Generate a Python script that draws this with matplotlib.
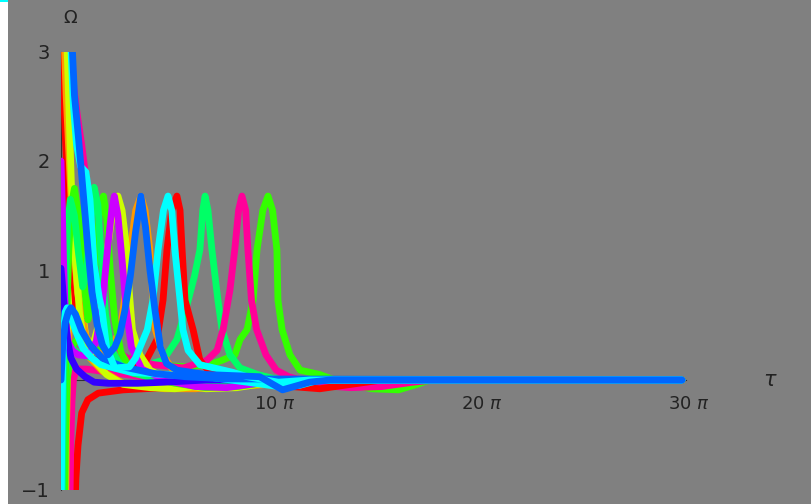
import matplotlib
matplotlib.use("Agg")
import matplotlib.pyplot as plt
from matplotlib.patches import Rectangle
from matplotlib.transforms import ScaledTranslation

# tau in units of pi, Omega
red_a_t = [0.03, 0.15, 0.3, 0.45, 0.7, 1.0, 1.5, 2.2, 3.09, 4.06, 4.64, 4.93, 5.12, 5.35, 5.6, 5.75, 5.85, 5.99, 6.38, 6.71, 7.2, 8.0, 9.0, 10.5, 12.5, 14.0, 15.5, 30.0]
red_a_w = [3.3, 2.5, 1.8, 1.4, 0.7, 0.4, 0.22, 0.13, 0.09, 0.16, 0.37, 0.73, 1.19, 1.55, 1.68, 1.55, 1.19, 0.73, 0.46, 0.18, 0.07, 0.03, 0.0, -0.05, -0.08, -0.04, 0.0, 0.0]

orange_a_t = [0.12, 0.25, 0.4, 0.55, 0.8, 1.2, 1.7, 2.26, 2.86, 3.14, 3.36, 3.61, 3.86, 4.06, 4.29, 4.41, 4.56, 4.92, 5.41, 6.5, 7.5, 8.5, 10.0, 12.0, 30.0]
orange_a_w = [3.3, 2.6, 2.0, 1.4, 0.8, 0.4, 0.25, 0.23, 0.46, 0.82, 1.2, 1.55, 1.68, 1.55, 1.19, 0.8, 0.46, 0.23, 0.09, 0.02, -0.04, -0.06, -0.04, 0.0, 0.0]

yellow_a_t = [0.25, 0.38, 0.5, 0.65, 0.9, 1.15, 1.4, 1.75, 2.03, 2.25, 2.5, 2.75, 2.95, 3.18, 3.3, 3.45, 3.81, 4.3, 5.0, 6.0, 7.0, 8.5, 9.5, 11.0, 30.0]
yellow_a_w = [3.3, 2.5, 1.8, 1.2, 0.6, 0.3, 0.22, 0.46, 0.82, 1.2, 1.55, 1.68, 1.55, 1.19, 0.8, 0.46, 0.23, 0.09, 0.02, -0.05, -0.08, -0.07, -0.04, 0.0, 0.0]

cyan_a_t = [0.42, 0.6, 0.75, 0.95, 1.2, 1.4, 1.6, 1.85, 1.98, 2.2, 2.6, 3.3, 3.6, 4.17, 4.44, 4.69, 4.95, 5.17, 5.35, 5.5, 5.75, 5.89, 6.14, 6.71, 8.3, 9.0, 10.5, 12.0, 30.0]
cyan_a_w = [3.3, 2.5, 2.15, 1.95, 1.9, 1.65, 1.05, 0.75, 0.64, 0.3, 0.11, 0.12, 0.2, 0.46, 0.73, 1.19, 1.55, 1.68, 1.55, 1.19, 0.73, 0.46, 0.27, 0.14, 0.07, 0.03, -0.02, 0.0, 0.0]

pink_a_t = [0.45, 0.6, 0.8, 1.0, 1.2, 1.45, 1.7, 2.0, 2.4, 3.2, 4.5, 5.9, 7.05, 7.54, 7.83, 8.16, 8.4, 8.58, 8.74, 8.92, 9.03, 9.2, 9.45, 9.9, 10.4, 11.0, 12.5, 14.0, 15.5, 17.0, 18.0, 30.0]
pink_a_w = [3.3, 2.7, 2.4, 2.15, 1.85, 1.3, 0.8, 0.5, 0.3, 0.2, 0.14, 0.11, 0.18, 0.27, 0.46, 0.82, 1.2, 1.55, 1.68, 1.55, 1.19, 0.73, 0.46, 0.23, 0.09, 0.03, -0.05, -0.07, -0.06, -0.02, 0.0, 0.0]

spring_c_t = [0.1, 0.16, 0.25, 0.45, 0.8, 1.5, 3.0, 4.2, 4.93, 5.6, 6.15, 6.45, 6.71, 6.85, 6.96, 7.1, 7.29, 7.58, 7.78, 8.16, 8.65, 9.5, 11.0, 13.0, 14.5, 16.0, 30.0]
spring_c_w = [-1.3, -0.3, 0.1, 0.3, 0.25, 0.2, 0.15, 0.14, 0.18, 0.37, 0.73, 0.95, 1.19, 1.55, 1.68, 1.55, 1.19, 0.73, 0.46, 0.23, 0.11, 0.05, -0.02, -0.05, -0.03, 0.0, 0.0]

green_c_t = [0.16, 0.22, 0.3, 0.5, 0.9, 1.5, 2.5, 4.0, 6.0, 7.2, 7.78, 8.4, 8.65, 8.99, 9.28, 9.47, 9.75, 10.0, 10.22, 10.43, 10.48, 10.68, 11.06, 11.55, 12.5, 13.5, 15.0, 16.3, 17.2, 17.8, 30.0]
green_c_w = [-1.3, -0.5, 0.0, 0.3, 0.4, 0.3, 0.2, 0.15, 0.12, 0.14, 0.18, 0.23, 0.37, 0.46, 0.73, 1.19, 1.55, 1.68, 1.55, 1.19, 0.73, 0.46, 0.23, 0.09, 0.05, -0.02, -0.08, -0.09, -0.04, 0.0, 0.0]

azure_a_t = [0.48, 0.65, 0.85, 1.1, 1.3, 1.5, 1.75, 2.0, 2.27, 2.6, 2.85, 3.09, 3.35, 3.6, 3.86, 4.08, 4.3, 4.54, 4.8, 5.1, 5.6, 7.0, 9.6, 10.7, 12.0, 13.0, 30.0]
azure_a_w = [3.3, 2.6, 2.2, 1.65, 1.2, 0.8, 0.5, 0.32, 0.23, 0.3, 0.42, 0.64, 0.95, 1.35, 1.68, 1.4, 1.0, 0.64, 0.3, 0.15, 0.09, 0.05, 0.03, -0.09, -0.02, 0.0, 0.0]

violet_t = [0.0, 0.06, 0.12, 0.18, 0.25, 0.35, 0.55, 0.82, 1.3, 1.7, 2.0, 2.25, 2.45, 2.58, 2.75, 2.95, 3.15, 3.4, 3.9, 5.0, 6.5, 8.0, 9.5, 11.0, 30.0]
violet_w = [2.0, 1.6, 1.1, 0.75, 0.5, 0.35, 0.27, 0.23, 0.22, 0.35, 0.7, 1.2, 1.55, 1.68, 1.5, 1.1, 0.65, 0.3, 0.1, 0.0, -0.06, -0.07, -0.03, 0.0, 0.0]

blue_t = [0.0, 0.08, 0.18, 0.3, 0.48, 0.75, 1.16, 1.6, 2.27, 3.7, 5.0, 7.0, 30.0]
blue_w = [1.02, 0.85, 0.6, 0.38, 0.2, 0.1, 0.03, -0.02, -0.03, -0.03, -0.02, 0.0, 0.0]

azure_b_t = [0.0, 0.08, 0.2, 0.35, 0.48, 0.7, 1.0, 1.4, 2.0, 3.0, 4.5, 6.0, 8.0, 30.0]
azure_b_w = [0.0, 0.3, 0.52, 0.62, 0.66, 0.6, 0.45, 0.32, 0.2, 0.12, 0.06, 0.03, 0.01, 0.0]

cyan_b_t = [0.0, 0.04, 0.08, 0.13, 0.2, 0.3, 0.45, 0.7, 1.06, 1.5, 1.93, 3.38, 5.0, 7.0, 9.0, 10.5, 11.5, 12.5, 30.0]
cyan_b_w = [-1.3, -0.5, 0.1, 0.45, 0.62, 0.66, 0.6, 0.45, 0.29, 0.2, 0.14, 0.07, 0.05, 0.03, -0.02, -0.06, -0.05, 0.0, 0.0]

spring_b_t = [0.06, 0.1, 0.15, 0.22, 0.32, 0.45, 0.65, 0.85, 1.05, 1.2, 1.4, 1.6, 1.78, 1.95, 2.15, 2.4, 2.8, 3.5, 5.0, 6.5, 8.0, 9.5, 11.0, 30.0]
spring_b_w = [-1.3, -0.5, 0.2, 0.9, 1.4, 1.65, 1.5, 1.15, 0.85, 0.95, 1.35, 1.76, 1.6, 1.1, 0.6, 0.3, 0.15, 0.06, 0.0, -0.05, -0.06, -0.03, 0.0, 0.0]

green_b_t = [0.12, 0.16, 0.21, 0.28, 0.38, 0.5, 0.65, 0.85, 1.05, 1.3, 1.5, 1.7, 1.88, 2.05, 2.2, 2.38, 2.6, 2.9, 3.3, 4.0, 5.5, 7.0, 8.5, 10.0, 11.0, 30.0]
green_b_w = [-1.3, -0.5, 0.0, 0.6, 1.2, 1.6, 1.75, 1.5, 1.0, 0.55, 0.7, 1.2, 1.55, 1.68, 1.5, 1.0, 0.55, 0.25, 0.12, 0.04, -0.03, -0.07, -0.06, -0.02, 0.0, 0.0]

yellow_b_t = [0.17, 0.21, 0.26, 0.33, 0.42, 0.55, 0.7, 0.9, 1.2, 1.6, 2.2, 3.0, 4.3, 5.5, 6.5, 7.5, 8.5, 30.0]
yellow_b_w = [-1.3, -0.5, 0.0, 0.5, 1.0, 1.3, 1.2, 0.8, 0.4, 0.18, 0.05, -0.04, -0.07, -0.08, -0.06, -0.02, 0.0, 0.0]

orange_b_t = [0.22, 0.26, 0.31, 0.38, 0.48, 0.62, 0.8, 1.05, 1.4, 2.0, 3.0, 5.0, 6.5, 7.8, 9.0, 10.0, 30.0]
orange_b_w = [-1.3, -0.5, 0.0, 0.4, 0.7, 0.75, 0.6, 0.38, 0.2, 0.08, -0.03, -0.08, -0.08, -0.06, -0.02, 0.0, 0.0]

pink_b_t = [0.42, 0.47, 0.53, 0.6, 0.7, 0.85, 1.2, 2.0, 3.5, 5.0, 6.5, 8.0, 9.5, 11.0, 30.0]
pink_b_w = [-1.3, -0.6, -0.2, 0.0, 0.08, 0.1, 0.1, 0.08, 0.04, 0.0, -0.04, -0.05, -0.02, 0.0, 0.0]

red_b_t = [0.66, 0.72, 0.82, 1.0, 1.3, 1.8, 3.0, 5.0, 6.5, 8.0, 10.0, 30.0]
red_b_w = [-1.3, -0.9, -0.6, -0.3, -0.18, -0.12, -0.09, -0.07, -0.05, -0.03, 0.0, 0.0]

# Hue[k/10]
RED, ORANGE, YELLOW, GREEN, SPRING = '#ff0000', '#ff9900', '#ccff00', '#33ff00', '#00ff66'
CYAN, AZURE, BLUE, VIOLET, PINK = '#00ffff', '#0066ff', '#3300ff', '#cc00ff', '#ff0099'

curves = [
    (red_b_t, red_b_w, RED),
    (pink_b_t, pink_b_w, PINK),
    (orange_b_t, orange_b_w, ORANGE),
    (yellow_b_t, yellow_b_w, YELLOW),
    (green_c_t, green_c_w, GREEN),
    (spring_c_t, spring_c_w, SPRING),
    (pink_a_t, pink_a_w, PINK),
    (red_a_t, red_a_w, RED),
    (orange_a_t, orange_a_w, ORANGE),
    (yellow_a_t, yellow_a_w, YELLOW),
    (green_b_t, green_b_w, GREEN),
    (spring_b_t, spring_b_w, SPRING),
    (violet_t, violet_w, VIOLET),
    (blue_t, blue_w, BLUE),
    (cyan_b_t, cyan_b_w, CYAN),
    (azure_b_t, azure_b_w, AZURE),
    (cyan_a_t, cyan_a_w, CYAN),
    (azure_a_t, azure_a_w, AZURE),
]

GRAY = '#808080'
TXT = '#222222'

fig = plt.figure(figsize=(8.12, 5.04), dpi=100, facecolor=GRAY)
ax = fig.add_axes([0, 0, 1, 1])
ax.set_facecolor(GRAY)
ax.set_xlim(-61 / 20.7, (812 - 61) / 20.7)
ax.set_ylim(-124 / 109.5, 380 / 109.5)

# plot range clipping (like PlotRange)
clip = Rectangle((0, -1.0), 30.4, 4.0, transform=ax.transData)

for t, w, c in curves:
    ln, = ax.plot(t, w, color=c, lw=4.9, solid_capstyle='round',
                  solid_joinstyle='round', zorder=3)
    ln.set_clip_path(clip)

# axes through the origin
for s in ['top', 'right']:
    ax.spines[s].set_visible(False)
ax.spines['left'].set_position(('data', 0))
ax.spines['bottom'].set_position(('data', 0))
ax.spines['left'].set_bounds(-1, 3)
ax.spines['bottom'].set_bounds(0, 30.2)
for s in ['left', 'bottom']:
    ax.spines[s].set_color('#333333')
    ax.spines[s].set_linewidth(0.8)

ax.set_yticks([-1, 1, 2, 3])
ax.set_yticklabels(['\u22121', '1', '2', '3'])
ax.set_xticks([10, 20, 30])
ax.set_xticklabels([r'10 $\pi$', r'20 $\pi$', r'30 $\pi$'])
ax.tick_params(axis='y', length=0, pad=8, labelsize=14, labelcolor=TXT)
ax.tick_params(axis='x', length=0, pad=11, labelsize=13, labelcolor=TXT)
shift = ScaledTranslation(7 / 100, 0, fig.dpi_scale_trans)
for lab in ax.get_xticklabels():
    lab.set_transform(lab.get_transform() + shift)

ax.text(0.43, 3.305, '\u03a9', ha='center', va='center', fontsize=13, color=TXT)
ax.text(34.25, 0.0, r'$\tau$', ha='center', va='center', fontsize=15, color=TXT)

# white strip on the left edge, with a small cyan mark
fig.patches.append(Rectangle((0, 0), 8 / 812, 1, transform=fig.transFigure,
                             facecolor='white', edgecolor='none', zorder=5))
fig.patches.append(Rectangle((0, 1 - 2 / 504), 8 / 812, 2 / 504, transform=fig.transFigure,
                             facecolor='#00ffff', edgecolor='none', zorder=6))

fig.savefig('out.png', dpi=100, facecolor=GRAY)
